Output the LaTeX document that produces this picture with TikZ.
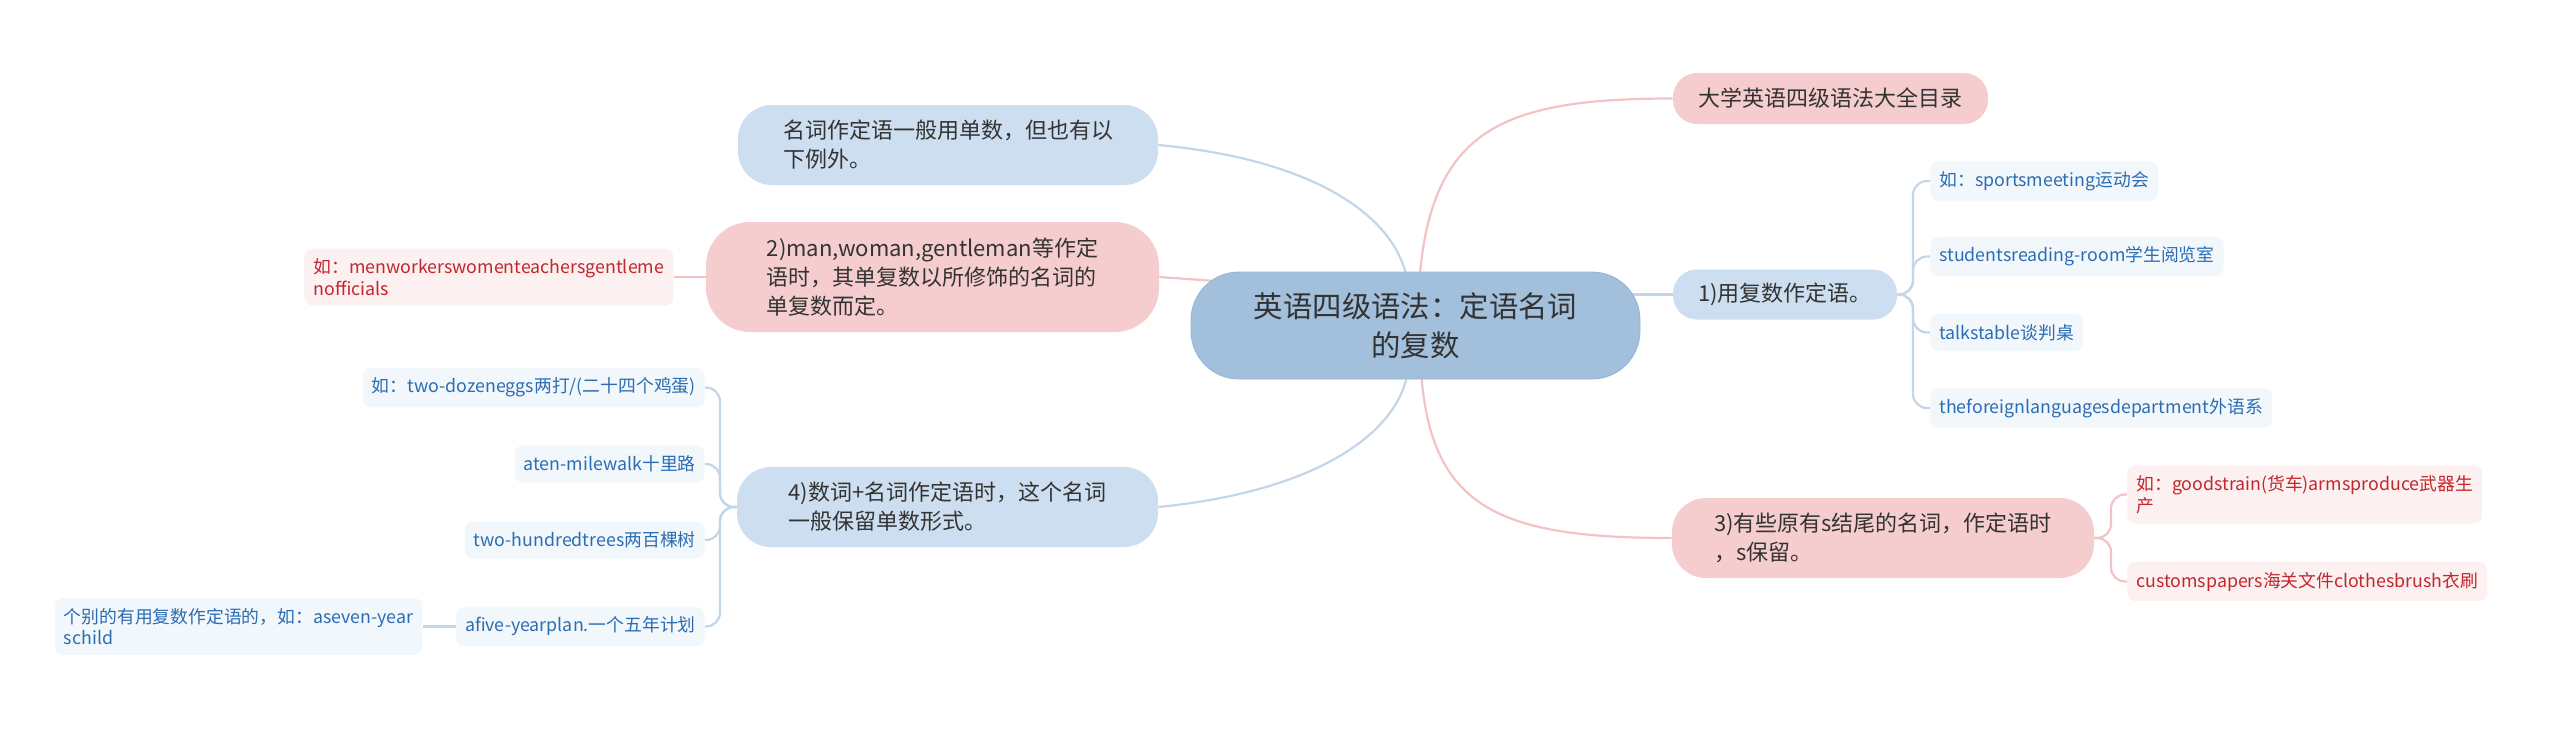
\documentclass[tikz,border=0pt]{standalone}
\usepackage{fontspec}
\setmainfont{Noto Sans CJK SC}
\usetikzlibrary{positioning,backgrounds}

\definecolor{rootfill}{HTML}{A2C0DB}
\definecolor{rootline}{HTML}{94B5D4}
\definecolor{topicblue}{HTML}{CCDEEF}
\definecolor{topicpink}{HTML}{F6CDCE}
\definecolor{leafbluebg}{HTML}{F2F7FC}
\definecolor{leafpinkbg}{HTML}{FCF0F0}
\definecolor{leafbluetext}{HTML}{2B6DB3}
\definecolor{leafpinktext}{HTML}{C1272D}
\definecolor{maintext}{HTML}{333333}
\definecolor{blueline}{HTML}{C3D6E9}
\definecolor{pinkline}{HTML}{F1C3C5}

\begin{document}
\begin{tikzpicture}[x=0.5pt, y=-0.5pt, node distance=16pt,
    root/.style={draw=rootline, fill=rootfill, rounded corners=24pt, align=center, text=maintext,
        minimum width=224.5pt, minimum height=53.5pt, font=\fontsize{14.7}{19.5}\selectfont},
    topic/.style={align=left, text=maintext, inner xsep=0pt, font=\fontsize{11}{14.5}\selectfont},
    bluetopic/.style={topic, fill=topicblue},
    pinktopic/.style={topic, fill=topicpink},
    leaf/.style={align=left, rounded corners=4pt, inner xsep=4.5pt, inner ysep=5pt,
        minimum height=18.5pt, font=\fontsize{8.9}{10.8}\selectfont},
    blueleaf/.style={leaf, fill=leafbluebg, text=leafbluetext},
    pinkleaf/.style={leaf, fill=leafpinkbg, text=leafpinktext},
    bline/.style={draw=blueline, line width=1.1pt},
    pline/.style={draw=pinkline, line width=1.1pt}]

    \useasboundingbox (0,0) rectangle (2560,730);

    \node[root] (root) at (1415.5,325.5) {英语四级语法：定语名词\\的复数};

    \node[pinktopic, rounded corners=12pt, minimum width=157.5pt, minimum height=25.5pt] (toc) at (1830.5,98.5) {大学英语四级语法大全目录};
    \node[bluetopic, rounded corners=12pt, minimum width=112pt, minimum height=25pt] (plural) at (1785,294.5) {1)用复数作定语。};
    \node[pinktopic, rounded corners=17pt, minimum width=211pt, minimum height=40pt] (sform) at (1883,538) {3)有些原有s结尾的名词，作定语时\\，s保留。};
    \node[bluetopic, rounded corners=17pt, minimum width=210pt, minimum height=40pt] (exc) at (948,145) {名词作定语一般用单数，但也有以\\下例外。};
    \node[pinktopic, rounded corners=22pt, minimum width=226.5pt, minimum height=55pt] (gender) at (932.5,277) {2)man,woman,gentleman等作定\\语时，其单复数以所修饰的名词的\\单复数而定。};
    \node[bluetopic, rounded corners=17pt, minimum width=210.5pt, minimum height=40pt] (numeral) at (947.5,507) {4)数词+名词作定语时，这个名词\\一般保留单数形式。};

    \node[blueleaf, anchor=west] (sports) at (1930,181) {如：sportsmeeting运动会};
    \node[blueleaf, anchor=west] (reading) at (1930,256.5) {studentsreading-room学生阅览室};
    \node[blueleaf, anchor=west] (talks) at (1930,332.5) {talkstable谈判桌};
    \node[blueleaf, anchor=west] (dept) at (1930,408) {theforeignlanguagesdepartment外语系};

    \node[pinkleaf, anchor=west] (goods) at (2127,494.5) {如：goodstrain(货车)armsproduce武器生\\产};
    \node[pinkleaf, anchor=west] (customs) at (2127,581.5) {customspapers海关文件clothesbrush衣刷};

    \node[pinkleaf, left=16pt of gender] (menwork) {如：menworkerswomenteachersgentleme\\nofficials};

    \node[blueleaf, anchor=east] (eggs) at (705,387.5) {如：two-dozeneggs两打/(二十四个鸡蛋)};
    \node[blueleaf, anchor=east] (walk) at (705,464) {aten-milewalk十里路};
    \node[blueleaf, anchor=east] (trees) at (705,540) {two-hundredtrees两百棵树};
    \node[blueleaf, anchor=east] (plan) at (705,626.5) {afive-yearplan.一个五年计划};
    \node[blueleaf, left=16.5pt of plan] (sevenyear) {个别的有用复数作定语的，如：aseven-year\\schild};

    \begin{scope}[on background layer]
        \draw[pline] (1419,285) .. controls (1430,130) and (1500,98.5) .. (toc.west);
        \draw[bline] (1408,285) .. controls (1400,220) and (1320,160) .. (exc.east);
        \draw[bline] (1408,370) .. controls (1400,431) and (1320,491) .. (numeral.east);
        \draw[pline] (1421,370) .. controls (1430,509) and (1500,538) .. (sform.west);
        \draw[pline] (gender.east) -- (1230,282);
        \draw[bline] (1600,294.5) -- (plural.west);

        \foreach \kid in {sports,reading,talks,dept}
            \draw[bline, rounded corners=7pt] (plural.east) -- (1913,294.5) |- (\kid.west);
        \foreach \kid in {goods,customs}
            \draw[pline, rounded corners=7pt] (sform.east) -- (2111,538) |- (\kid.west);
        \foreach \kid in {eggs,walk,trees,plan}
            \draw[bline, rounded corners=7pt] (numeral.west) -- (720,507) |- (\kid.east);
        \draw[pline] (gender) -- (menwork);
        \draw[bline] (plan) -- (sevenyear);
    \end{scope}
\end{tikzpicture}
\end{document}
